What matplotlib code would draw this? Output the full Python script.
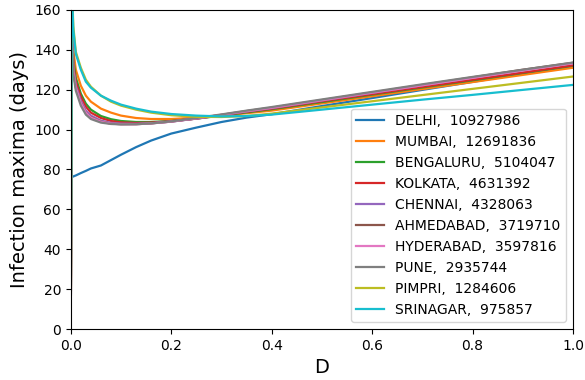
import numpy as np
import matplotlib
matplotlib.use("Agg")
import matplotlib.pyplot as plt

D = [0, 0.002, 0.005, 0.01, 0.02, 0.03, 0.04, 0.06, 0.08, 0.1, 0.13, 0.16,
     0.2, 0.25, 0.3, 0.35, 0.4, 0.5, 0.6, 0.7, 0.8, 0.9, 1.0]

CITIES = ["DELHI", "MUMBAI", "BENGALURU", "KOLKATA", "CHENNAI",
          "AHMEDABAD", "HYDERABAD", "PUNE", "PIMPRI", "SRINAGAR"]
POP = [10927986, 12691836, 5104047, 4631392, 4328063,
       3719710, 3597816, 2935744, 1284606, 975857]

delhi = [76, 76.2, 76.5, 77, 78.2, 79.3, 80.5, 82, 84.7, 87.4, 91.2, 94.5,
         98, 101, 103.8, 106, 107.7, 111.8, 115.8, 119.9, 123.9, 128, 132]
mumbai = [0, 165, 140, 130, 122, 117, 114, 110.5, 108.5, 107, 105.8, 105.3,
          105.3, 106, 107, 108.2, 109.5, 113.1, 116.7, 120.3, 123.8, 127.4, 131]
bengaluru = [0, 160, 135, 126, 118, 113, 110, 106.8, 105.2, 104.3, 103.8, 103.8,
             104.3, 105.5, 107, 108.6, 110.2, 113.8, 117.5, 121.1, 124.7, 128.4, 132]
kolkata = [0, 158, 133, 124, 116.5, 111.5, 108.5, 105.8, 104.3, 103.6, 103.3, 103.5,
           104.2, 105.5, 107.2, 108.9, 110.5, 114.2, 117.8, 121.4, 125, 128.6, 132.2]
chennai = [0, 156, 131, 122, 114.5, 109.5, 107, 104.5, 103.4, 103, 102.9, 103.2,
           104, 105.5, 107.3, 109.1, 110.8, 114.6, 118.4, 122.2, 126, 129.8, 133.3]
ahmedabad = [0, 155, 130, 121, 113.5, 108.5, 106.2, 104, 103, 102.7, 102.7, 103.1,
             104, 105.6, 107.4, 109.3, 111, 114.8, 118.6, 122.4, 126.2, 130, 133.5]
hyderabad = [0, 155, 130, 121, 113.3, 108.5, 106, 103.9, 103, 102.7, 102.7, 103.1,
             104, 105.6, 107.4, 109.2, 110.9, 114.7, 118.5, 122.2, 125.9, 129.6, 133.2]
pune = [0, 154, 128, 119.5, 112, 107.5, 105.3, 103.5, 102.8, 102.6, 102.7, 103.1,
        104.1, 105.8, 107.6, 109.5, 111.3, 115.1, 118.9, 122.7, 126.4, 130, 133.6]
pimpri = [0, 175, 152, 139, 131, 125, 121.5, 117, 114, 112, 110, 108.5,
          107.2, 106.4, 106.3, 106.8, 108, 111.1, 114.2, 117.3, 120.4, 123.5, 126.6]
srinagar = [0, 172, 150, 138, 130, 124, 121, 117, 114.5, 112.5, 110.5, 109,
            107.8, 107, 106.6, 106.8, 107.5, 110, 112.5, 115, 117.4, 119.9, 122.4]

SERIES = [delhi, mumbai, bengaluru, kolkata, chennai,
          ahmedabad, hyderabad, pune, pimpri, srinagar]


def main():
    fig, ax = plt.subplots(figsize=(5.85, 3.8), dpi=100)
    fig.subplots_adjust(left=0.121, right=0.9795, top=0.974, bottom=0.134)
    for name, pop, ys in zip(CITIES, POP, SERIES):
        ax.plot(D, ys, lw=1.6, label=f"{name},  {pop}")
    ax.set_xlim(0, 1)
    ax.set_ylim(0, 160)
    ax.set_xlabel("D", fontsize=14)
    ax.set_ylabel("Infection maxima (days)", fontsize=14)
    ax.legend(loc="lower right", fontsize=10)
    fig.savefig("out.png", dpi=100)


if __name__ == "__main__":
    main()
